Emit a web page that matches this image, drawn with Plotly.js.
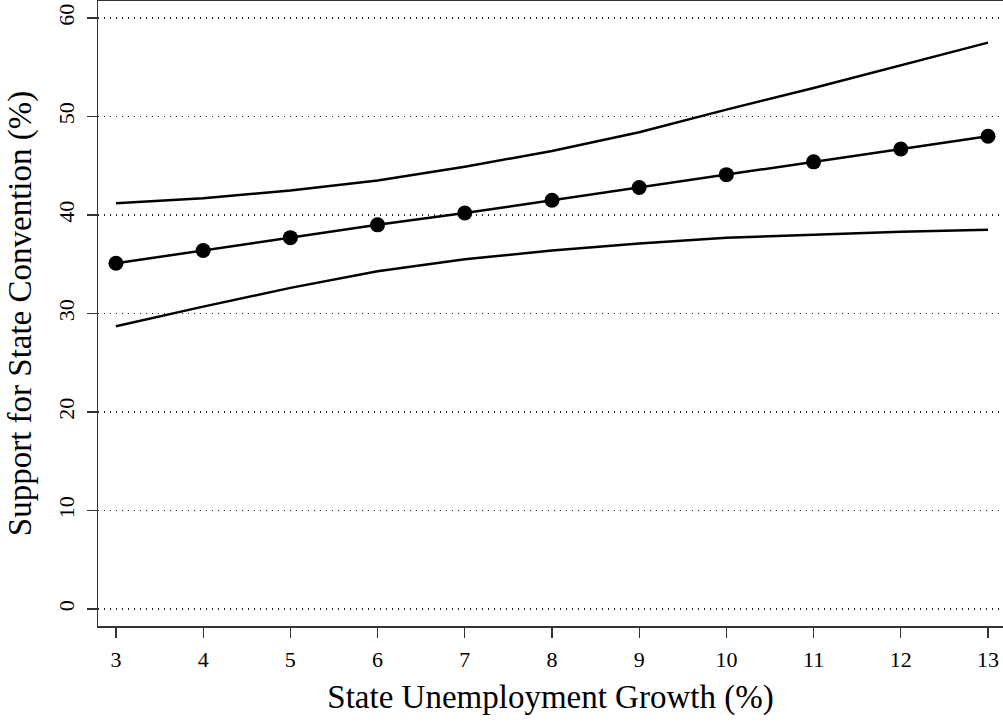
<!DOCTYPE html>
<html><head><meta charset="utf-8">
<script src="https://cdn.plot.ly/plotly-3.0.1.min.js"></script>
<style>html,body{margin:0;padding:0;background:#fff}#chart{width:1003px;height:725px}</style>
</head><body><div id="chart"></div>
<script>
const growth = [3, 4, 5, 6, 7, 8, 9, 10, 11, 12, 13];
const support = [35.1, 36.4, 37.7, 39.0, 40.2, 41.5, 42.8, 44.1, 45.4, 46.7, 48.0];
const upper = [41.2, 41.7, 42.5, 43.5, 44.9, 46.5, 48.4, 50.7, 52.9, 55.2, 57.5];
const lower = [28.7, 30.7, 32.6, 34.3, 35.5, 36.4, 37.1, 37.7, 38.0, 38.3, 38.5];
const yTicks = [0, 10, 20, 30, 40, 50, 60];

const font = 'Liberation Serif, Times New Roman, serif';
const traces = [
  {x: growth, y: upper, mode: 'lines', line: {color: '#000', width: 2.5}, hoverinfo: 'skip'},
  {x: growth, y: lower, mode: 'lines', line: {color: '#000', width: 2.5}, hoverinfo: 'skip'},
  {x: growth, y: support, mode: 'lines+markers', line: {color: '#000', width: 2.5},
   marker: {color: '#000', size: 15}}
];
const layout = {
  width: 1003, height: 725,
  margin: {l: 98, r: 0, t: 1, b: 99},
  showlegend: false,
  paper_bgcolor: '#fff', plot_bgcolor: '#fff',
  font: {family: font, color: '#000', size: 22},
  xaxis: {
    range: [2.794, 13.172], tickvals: growth, ticks: 'outside', ticklen: 10, tickwidth: 1.3,
    tickcolor: '#333', showline: true, linecolor: '#333', linewidth: 1.5, mirror: true,
    showgrid: false, zeroline: false, ticklabelstandoff: 3,
    title: {text: 'State Unemployment Growth (%)', font: {size: 33}, standoff: 14},
    tickfont: {size: 22}
  },
  yaxis: {
    range: [-1.73, 61.73], tickvals: yTicks, ticks: 'outside', ticklen: 10, tickwidth: 1.3,
    tickcolor: '#333', showline: true, linecolor: '#333', linewidth: 1.5,
    showgrid: true, gridcolor: '#222', gridwidth: 1.2, griddash: '1px,5px', zeroline: false,
    tickangle: -90, ticklabelstandoff: 4,
    title: {text: 'Support for State Convention (%)', font: {size: 33}, standoff: 12},
    tickfont: {size: 22}
  }
};
Plotly.newPlot('chart', traces, layout, {displayModeBar: false, staticPlot: true});
</script></body></html>
